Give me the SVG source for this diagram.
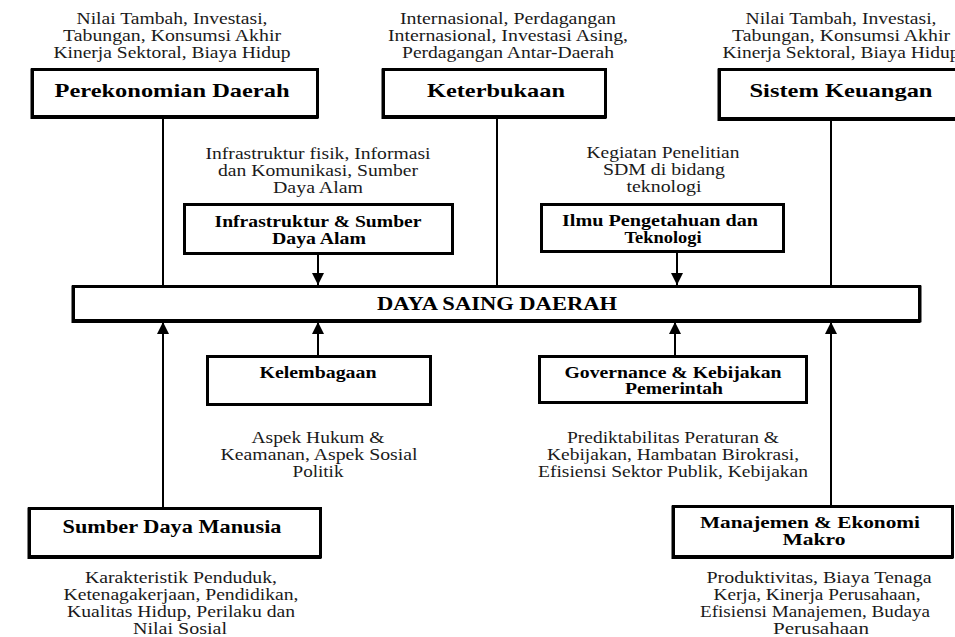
<svg xmlns="http://www.w3.org/2000/svg" width="955" height="637" viewBox="0 0 955 637">
  <style>
    .box { fill: #ffffff; stroke: #000000; stroke-width: 3; }
    .shade { fill: none; stroke: #000000; stroke-width: 1.5; }
    .edge { fill: none; stroke: #000000; stroke-width: 2; }
    .note { font-family: "Liberation Serif", "Times New Roman", serif; font-size: 16px; fill: #1a1a1a; text-anchor: middle; }
    .title { font-family: "Liberation Serif", "Times New Roman", serif; font-size: 19px; font-weight: bold; fill: #000000; text-anchor: middle; }
    .label { font-family: "Liberation Serif", "Times New Roman", serif; font-size: 16px; font-weight: bold; fill: #000000; text-anchor: middle; }
    .core { font-family: "Liberation Serif", "Times New Roman", serif; font-size: 18px; font-weight: bold; fill: #000000; text-anchor: middle; }
  </style>
  <defs>
    <marker id="head" viewBox="0 0 12 12" refX="12" refY="6" markerWidth="12" markerHeight="12" markerUnits="userSpaceOnUse" orient="auto">
      <path d="M0,0 L12,6 L0,12 Z" fill="#000000"/>
    </marker>
  </defs>
  <rect width="955" height="637" fill="#ffffff"/>

  <!-- connectors -->
  <g id="connectors">
    <line class="edge" x1="163" y1="118" x2="163" y2="286"/>
    <line class="edge" x1="497" y1="118" x2="497" y2="286"/>
    <line class="edge" x1="831" y1="120" x2="831" y2="286"/>
    <line class="edge" x1="318" y1="255" x2="318" y2="285" marker-end="url(#head)"/>
    <line class="edge" x1="677" y1="253" x2="677" y2="285" marker-end="url(#head)"/>
    <line class="edge" x1="163" y1="507" x2="163" y2="322" marker-end="url(#head)"/>
    <line class="edge" x1="318" y1="355" x2="318" y2="322" marker-end="url(#head)"/>
    <line class="edge" x1="675" y1="355" x2="675" y2="322" marker-end="url(#head)"/>
    <line class="edge" x1="831" y1="505" x2="831" y2="322" marker-end="url(#head)"/>
  </g>

  <!-- top row -->
  <g id="perekonomian-daerah">
    <text class="note" x="172" y="24" textLength="191" lengthAdjust="spacingAndGlyphs">Nilai Tambah, Investasi,</text>
    <text class="note" x="172" y="41" textLength="218" lengthAdjust="spacingAndGlyphs">Tabungan, Konsumsi Akhir</text>
    <text class="note" x="172" y="58" textLength="237" lengthAdjust="spacingAndGlyphs">Kinerja Sektoral, Biaya Hidup</text>
    <rect class="box" x="32.5" y="69.5" width="285" height="47"/>
    <path class="shade" d="M31.25,68.5 V118.25 H318.5"/>
    <text class="title" x="172" y="97" textLength="235" lengthAdjust="spacingAndGlyphs">Perekonomian Daerah</text>
  </g>

  <g id="keterbukaan">
    <text class="note" x="508" y="24" textLength="216" lengthAdjust="spacingAndGlyphs">Internasional, Perdagangan</text>
    <text class="note" x="508" y="41" textLength="240" lengthAdjust="spacingAndGlyphs">Internasional, Investasi Asing,</text>
    <text class="note" x="508" y="58" textLength="212" lengthAdjust="spacingAndGlyphs">Perdagangan Antar-Daerah</text>
    <rect class="box" x="383.5" y="69.5" width="222" height="47"/>
    <path class="shade" d="M382.25,68.5 V118.25 H606.5"/>
    <text class="title" x="496" y="97" textLength="138" lengthAdjust="spacingAndGlyphs">Keterbukaan</text>
  </g>

  <g id="sistem-keuangan">
    <text class="note" x="841" y="24" textLength="191" lengthAdjust="spacingAndGlyphs">Nilai Tambah, Investasi,</text>
    <text class="note" x="841" y="41" textLength="218" lengthAdjust="spacingAndGlyphs">Tabungan, Konsumsi Akhir</text>
    <text class="note" x="841" y="58" textLength="237" lengthAdjust="spacingAndGlyphs">Kinerja Sektoral, Biaya Hidup</text>
    <rect class="box" x="719.5" y="69.5" width="250" height="49"/>
    <path class="shade" d="M718.25,68.5 V120.25 H955"/>
    <text class="title" x="841" y="97" textLength="183" lengthAdjust="spacingAndGlyphs">Sistem Keuangan</text>
  </g>

  <!-- second row -->
  <g id="infrastruktur">
    <text class="note" x="318" y="159" textLength="225" lengthAdjust="spacingAndGlyphs">Infrastruktur fisik, Informasi</text>
    <text class="note" x="318" y="176" textLength="200" lengthAdjust="spacingAndGlyphs">dan Komunikasi, Sumber</text>
    <text class="note" x="318" y="193" textLength="90" lengthAdjust="spacingAndGlyphs">Daya Alam</text>
    <rect class="box" x="184.5" y="204.5" width="268" height="49"/>
    <text class="label" x="318" y="227" textLength="207" lengthAdjust="spacingAndGlyphs">Infrastruktur &amp; Sumber</text>
    <text class="label" x="319" y="244" textLength="94" lengthAdjust="spacingAndGlyphs">Daya Alam</text>
  </g>

  <g id="iptek">
    <text class="note" x="663" y="158" textLength="153" lengthAdjust="spacingAndGlyphs">Kegiatan Penelitian</text>
    <text class="note" x="664" y="175" textLength="122" lengthAdjust="spacingAndGlyphs">SDM di bidang</text>
    <text class="note" x="664" y="192" textLength="75" lengthAdjust="spacingAndGlyphs">teknologi</text>
    <rect class="box" x="541.5" y="204.5" width="242" height="47"/>
    <text class="label" x="660" y="226" textLength="196" lengthAdjust="spacingAndGlyphs">Ilmu Pengetahuan dan</text>
    <text class="label" x="663" y="243" textLength="77" lengthAdjust="spacingAndGlyphs">Teknologi</text>
  </g>

  <!-- central bar -->
  <g id="daya-saing-daerah">
    <rect class="box" x="73.5" y="286.5" width="846" height="34"/>
    <path class="shade" d="M72.25,285.5 V322.25 H920.5"/>
    <path class="shade" d="M920.75,285.5 V322.25"/>
    <text class="core" x="497" y="310" textLength="240" lengthAdjust="spacingAndGlyphs">DAYA SAING DAERAH</text>
  </g>

  <!-- third row -->
  <g id="kelembagaan">
    <rect class="box" x="207.5" y="356.5" width="223" height="48"/>
    <text class="label" x="318" y="378" textLength="117" lengthAdjust="spacingAndGlyphs">Kelembagaan</text>
    <text class="note" x="318" y="443" textLength="133" lengthAdjust="spacingAndGlyphs">Aspek Hukum &amp;</text>
    <text class="note" x="319" y="460" textLength="197" lengthAdjust="spacingAndGlyphs">Keamanan, Aspek Sosial</text>
    <text class="note" x="318" y="477" textLength="51" lengthAdjust="spacingAndGlyphs">Politik</text>
  </g>

  <g id="governance">
    <rect class="box" x="539.5" y="356.5" width="267" height="46"/>
    <text class="label" x="673" y="378" textLength="217" lengthAdjust="spacingAndGlyphs">Governance &amp; Kebijakan</text>
    <text class="label" x="674" y="394" textLength="98" lengthAdjust="spacingAndGlyphs">Pemerintah</text>
    <text class="note" x="673" y="443" textLength="212" lengthAdjust="spacingAndGlyphs">Prediktabilitas Peraturan &amp;</text>
    <text class="note" x="673" y="460" textLength="252" lengthAdjust="spacingAndGlyphs">Kebijakan, Hambatan Birokrasi,</text>
    <text class="note" x="673" y="477" textLength="270" lengthAdjust="spacingAndGlyphs">Efisiensi Sektor Publik, Kebijakan</text>
  </g>

  <!-- bottom row -->
  <g id="sumber-daya-manusia">
    <rect class="box" x="29.5" y="508.5" width="291" height="48"/>
    <path class="shade" d="M28.25,507.5 V558.25 H321.5"/>
    <text class="title" x="172" y="533" textLength="219" lengthAdjust="spacingAndGlyphs">Sumber Daya Manusia</text>
    <text class="note" x="181" y="583" textLength="192" lengthAdjust="spacingAndGlyphs">Karakteristik Penduduk,</text>
    <text class="note" x="181" y="600" textLength="235" lengthAdjust="spacingAndGlyphs">Ketenagakerjaan, Pendidikan,</text>
    <text class="note" x="181" y="617" textLength="228" lengthAdjust="spacingAndGlyphs">Kualitas Hidup, Perilaku dan</text>
    <text class="note" x="180" y="634" textLength="94" lengthAdjust="spacingAndGlyphs">Nilai Sosial</text>
  </g>

  <g id="manajemen">
    <rect class="box" x="673.5" y="506.5" width="279" height="50"/>
    <path class="shade" d="M672.25,505.5 V558.25 H953.5"/>
    <text class="label" x="810" y="528" textLength="220" lengthAdjust="spacingAndGlyphs">Manajemen &amp; Ekonomi</text>
    <text class="label" x="814" y="545" textLength="63" lengthAdjust="spacingAndGlyphs">Makro</text>
    <text class="note" x="819" y="583" textLength="225" lengthAdjust="spacingAndGlyphs">Produktivitas, Biaya Tenaga</text>
    <text class="note" x="817" y="600" textLength="207" lengthAdjust="spacingAndGlyphs">Kerja, Kinerja Perusahaan,</text>
    <text class="note" x="815" y="617" textLength="230" lengthAdjust="spacingAndGlyphs">Efisiensi Manajemen, Budaya</text>
    <text class="note" x="821" y="634" textLength="96" lengthAdjust="spacingAndGlyphs">Perusahaan</text>
  </g>
</svg>
